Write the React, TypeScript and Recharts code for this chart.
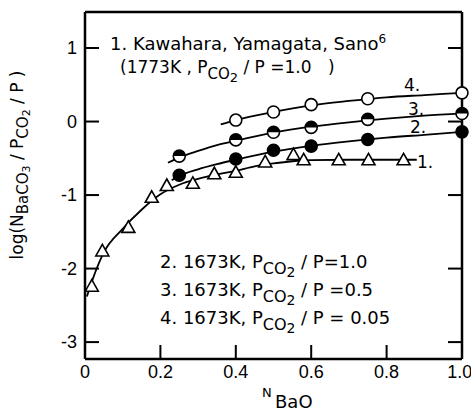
import React from 'react'
import {
  ComposedChart, Line, Scatter, XAxis, YAxis, Customized
} from 'recharts'

// fitted curves
const curve1 = [
  { x: 0.005, y: -2.38 }, { x: 0.02, y: -2.15 }, { x: 0.05, y: -1.78 },
  { x: 0.1, y: -1.46 }, { x: 0.15, y: -1.2 }, { x: 0.2, y: -0.99 },
  { x: 0.25, y: -0.86 }, { x: 0.3, y: -0.78 }, { x: 0.35, y: -0.72 },
  { x: 0.4, y: -0.67 }, { x: 0.45, y: -0.61 }, { x: 0.5, y: -0.57 },
  { x: 0.55, y: -0.54 }, { x: 0.6, y: -0.525 }, { x: 0.7, y: -0.52 },
  { x: 0.88, y: -0.52 },
]
const curve2 = [
  { x: 0.23, y: -0.8 }, { x: 0.25, y: -0.74 }, { x: 0.3, y: -0.65 },
  { x: 0.35, y: -0.58 }, { x: 0.4, y: -0.52 }, { x: 0.5, y: -0.41 },
  { x: 0.6, y: -0.33 }, { x: 0.7, y: -0.27 }, { x: 0.8, y: -0.22 },
  { x: 0.9, y: -0.18 }, { x: 1.0, y: -0.14 },
]
const curve3 = [
  { x: 0.22, y: -0.56 }, { x: 0.25, y: -0.49 }, { x: 0.3, y: -0.4 },
  { x: 0.35, y: -0.32 }, { x: 0.4, y: -0.26 }, { x: 0.5, y: -0.15 },
  { x: 0.6, y: -0.07 }, { x: 0.7, y: -0.01 }, { x: 0.8, y: 0.04 },
  { x: 0.9, y: 0.08 }, { x: 1.0, y: 0.11 },
]
const curve4 = [
  { x: 0.36, y: -0.04 }, { x: 0.4, y: 0.02 }, { x: 0.5, y: 0.13 },
  { x: 0.6, y: 0.22 }, { x: 0.7, y: 0.28 }, { x: 0.8, y: 0.33 },
  { x: 0.9, y: 0.36 }, { x: 1.0, y: 0.39 },
]

// measured points
const kawahara = [
  { x: 0.018, y: -2.24 }, { x: 0.046, y: -1.76 }, { x: 0.115, y: -1.44 },
  { x: 0.177, y: -1.03 }, { x: 0.217, y: -0.87 }, { x: 0.286, y: -0.84 },
  { x: 0.343, y: -0.71 }, { x: 0.4, y: -0.69 }, { x: 0.478, y: -0.55 },
  { x: 0.553, y: -0.45 }, { x: 0.58, y: -0.52 }, { x: 0.673, y: -0.52 },
  { x: 0.752, y: -0.52 }, { x: 0.845, y: -0.52 },
]
const p10 = [
  { x: 0.25, y: -0.73 }, { x: 0.4, y: -0.51 }, { x: 0.5, y: -0.39 },
  { x: 0.6, y: -0.335 }, { x: 0.75, y: -0.245 }, { x: 1.0, y: -0.14 },
]
const p05 = [
  { x: 0.25, y: -0.47 }, { x: 0.4, y: -0.25 }, { x: 0.5, y: -0.145 },
  { x: 0.6, y: -0.08 }, { x: 0.75, y: 0.03 }, { x: 1.0, y: 0.11 },
]
const p005 = [
  { x: 0.4, y: 0.02 }, { x: 0.5, y: 0.13 }, { x: 0.6, y: 0.23 },
  { x: 0.75, y: 0.31 }, { x: 1.0, y: 0.39 },
]

const xTicks = [0, 0.2, 0.4, 0.6, 0.8, 1.0]
const xTickLabels = ['0', '0.2', '0.4', '0.6', '0.8', '1.0']
const yTicks = [-3, -2, -1, 0, 1]
const yTickLabels = ['-3', '-2', '-1', '0', '1']

const R = 6
const tickFont = { fontSize: 18, fill: '#000', fontFamily: 'Liberation Sans' }
const txt = { fontFamily: 'DejaVu Sans', fill: '#000' }

const Tri = (p: any) => (
  <polygon
    points={`${p.cx},${p.cy - 6.5} ${p.cx - 6.5},${p.cy + 5} ${p.cx + 6.5},${p.cy + 5}`}
    fill="#fff" stroke="#000" strokeWidth={1.6}
  />
)
const Open = (p: any) => (
  <circle cx={p.cx} cy={p.cy} r={R} fill="#fff" stroke="#000" strokeWidth={1.6} />
)
const Filled = (p: any) => (
  <circle cx={p.cx} cy={p.cy} r={R} fill="#000" stroke="#000" strokeWidth={1.6} />
)
const Half = (p: any) => (
  <g>
    <circle cx={p.cx} cy={p.cy} r={R} fill="#fff" stroke="#000" strokeWidth={1.6} />
    <path d={`M${p.cx - R},${p.cy} A${R},${R} 0 0 1 ${p.cx + R},${p.cy} Z`} fill="#000" />
  </g>
)

function Notes() {
  return (
    <g style={txt}>
      <text x={110} y={50} fontSize={18}>
        1. Kawahara, Yamagata, Sano<tspan dy={-7} fontSize={12}>6</tspan>
      </text>
      <text x={120} y={73} fontSize={17}>
        (1773K , P<tspan dy={6} fontSize={15}>CO</tspan>
        <tspan dy={3} fontSize={13}>2</tspan>
        <tspan dy={-9}> / P =1.0</tspan>
        <tspan x={328}>)</tspan>
      </text>

      <text x={160} y={268} fontSize={18}>
        2. 1673K, P<tspan dy={6} fontSize={16}>CO</tspan>
        <tspan dy={3} fontSize={14}>2</tspan>
        <tspan dy={-9} x={301}>/ P=1.0</tspan>
      </text>
      <text x={160} y={296} fontSize={18}>
        3. 1673K, P<tspan dy={6} fontSize={16}>CO</tspan>
        <tspan dy={3} fontSize={14}>2</tspan>
        <tspan dy={-9} x={301}>/ P =0.5</tspan>
      </text>
      <text x={160} y={324} fontSize={18}>
        4. 1673K, P<tspan dy={6} fontSize={16}>CO</tspan>
        <tspan dy={3} fontSize={14}>2</tspan>
        <tspan dy={-9} x={301}>/ P = 0.05</tspan>
      </text>

      <text x={404} y={91} fontSize={17}>4.</text>
      <text x={408} y={115} fontSize={17}>3.</text>
      <text x={410} y={133} fontSize={17}>2.</text>
      <text x={417} y={168} fontSize={17}>1.</text>

      <text x={262} y={397} fontSize={13}>N</text>
      <text x={275} y={408} fontSize={18}>BaO</text>

      <text transform="translate(23,165) rotate(-90)" textAnchor="middle" fontSize={17}>
        log(N<tspan dy={5} fontSize={15}>BaCO</tspan>
        <tspan dy={2} fontSize={11}>3</tspan>
        <tspan dy={-7}> / P</tspan>
        <tspan dy={5} fontSize={15}>CO</tspan>
        <tspan dy={2} fontSize={11}>2</tspan>
        <tspan dy={-7}> / P )</tspan>
      </text>
    </g>
  )
}

export default function App() {
  const axisLine = { stroke: '#000', strokeWidth: 2.5 }
  const tickLine = { stroke: '#000', strokeWidth: 2 }
  return (
    <div style={{ position: 'absolute', left: 0, top: 0, background: '#fff' }}>
      <ComposedChart width={471} height={411} margin={{ top: 2, right: 1, bottom: 22, left: 25 }}>
        <XAxis
          xAxisId="b" type="number" dataKey="x" domain={[0, 1]} ticks={xTicks}
          height={30} tickSize={-14} tickMargin={20}
          axisLine={axisLine} tickLine={tickLine} tick={tickFont}
          tickFormatter={(v) => xTickLabels[xTicks.indexOf(v)]}
        />
        <XAxis
          xAxisId="t" orientation="top" type="number" dataKey="x" domain={[0, 1]}
          ticks={xTicks} height={10} tickSize={-14}
          axisLine={axisLine} tickLine={tickLine} tickFormatter={() => ''}
        />
        <YAxis
          yAxisId="l" type="number" dataKey="y" domain={[-3.23, 1.49]} ticks={yTicks}
          width={60} tickSize={-14} tickMargin={22} allowDataOverflow
          axisLine={axisLine} tickLine={tickLine} tick={tickFont}
          tickFormatter={(v) => yTickLabels[yTicks.indexOf(v)]}
        />
        <YAxis
          yAxisId="r" orientation="right" type="number" dataKey="y" domain={[-3.23, 1.49]}
          ticks={yTicks} width={8} tickSize={-14} allowDataOverflow
          axisLine={axisLine} tickLine={tickLine} tickFormatter={() => ''}
        />

        <Line xAxisId="b" yAxisId="l" data={curve1} dataKey="y" type="monotone"
          stroke="#000" strokeWidth={1.8} dot={false} isAnimationActive={false} />
        <Line xAxisId="b" yAxisId="l" data={curve2} dataKey="y" type="monotone"
          stroke="#000" strokeWidth={1.8} dot={false} isAnimationActive={false} />
        <Line xAxisId="b" yAxisId="l" data={curve3} dataKey="y" type="monotone"
          stroke="#000" strokeWidth={1.8} dot={false} isAnimationActive={false} />
        <Line xAxisId="b" yAxisId="l" data={curve4} dataKey="y" type="monotone"
          stroke="#000" strokeWidth={1.8} dot={false} isAnimationActive={false} />

        <Scatter xAxisId="b" yAxisId="l" data={kawahara} dataKey="y" shape={Tri} isAnimationActive={false} />
        <Scatter xAxisId="b" yAxisId="l" data={p10} dataKey="y" shape={Filled} isAnimationActive={false} />
        <Scatter xAxisId="b" yAxisId="l" data={p05} dataKey="y" shape={Half} isAnimationActive={false} />
        <Scatter xAxisId="b" yAxisId="l" data={p005} dataKey="y" shape={Open} isAnimationActive={false} />

        <Customized component={Notes} />
      </ComposedChart>
    </div>
  )
}
